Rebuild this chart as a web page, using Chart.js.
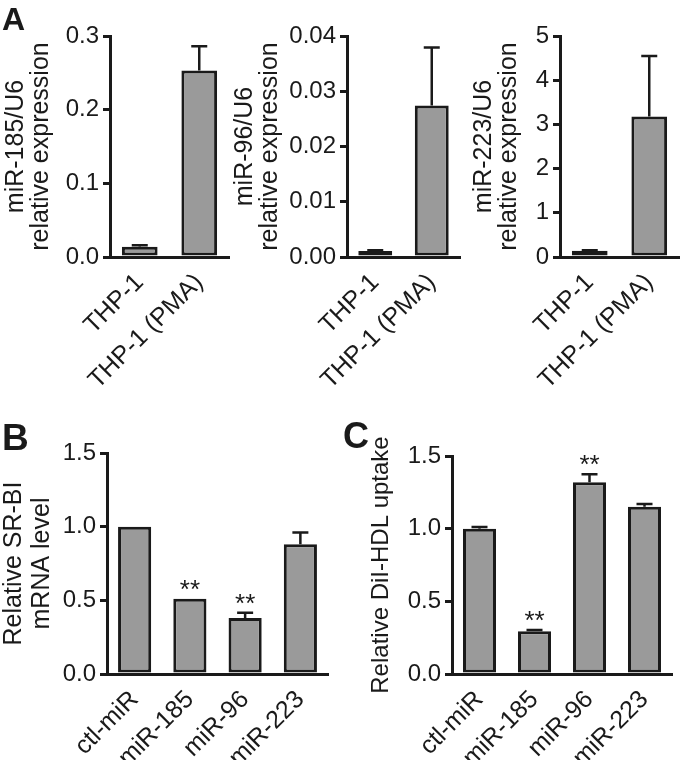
<!DOCTYPE html>
<html>
<head>
<meta charset="utf-8">
<script src="https://cdn.jsdelivr.net/npm/chart.js@4.4.1/dist/chart.umd.min.js"></script>
<style>
  html, body { margin: 0; padding: 0; background: #fff; }
  #fig { position: relative; width: 680px; height: 760px; overflow: hidden; }
  canvas { position: absolute; }
</style>
</head>
<body>
<div id="fig">
  <canvas id="a1" width="232" height="390" style="left:0;top:0"></canvas>
  <canvas id="a2" width="230" height="390" style="left:232px;top:0"></canvas>
  <canvas id="a3" width="218" height="390" style="left:462px;top:0"></canvas>
  <canvas id="b" width="340" height="360" style="left:0;top:400px"></canvas>
  <canvas id="c" width="340" height="360" style="left:340px;top:400px"></canvas>
</div>
<script>
const FONT = "'Liberation Sans', Arial, Helvetica, sans-serif";
const INK = '#1a1a1a';
const BAR_FILL = '#9a9a9a';

// panel A - miRNA expression, THP-1 vs PMA-differentiated
const thpLabels = ['THP-1', 'THP-1 (PMA)'];
const mir185Mean = [0.014, 0.253];
const mir185Err = [0.002, 0.033];
const mir96Mean = [0.0011, 0.0274];
const mir96Err = [0.0001, 0.0105];
const mir223Mean = [0.14, 3.18];
const mir223Err = [0.01, 1.37];
const mir185Ticks = ['0.0', '0.1', '0.2', '0.3'];
const mir96Ticks = ['0.00', '0.01', '0.02', '0.03', '0.04'];
const mir223Ticks = ['0', '1', '2', '3', '4', '5'];

// panels B and C
const mirLabels = ['ctl-miR', 'miR-185', 'miR-96', 'miR-223'];
const srbiMean = [1.0, 0.51, 0.38, 0.88];
const srbiErr = [0, 0, 0.036, 0.08];
const srbiStars = ['', '**', '**', ''];
const uptakeMean = [1.0, 0.295, 1.32, 1.15];
const uptakeErr = [0.012, 0.008, 0.055, 0.02];
const uptakeStars = ['', '**', '**', ''];
const relTicks = ['0.0', '0.5', '1.0', '1.5'];

// upward error bars + significance stars
const errorBars = {
  id: 'errorBars',
  afterDatasetsDraw(chart, args, opts) {
    const ctx = chart.ctx;
    const y = chart.scales.y;
    const vals = chart.data.datasets[0].data;
    const cap = opts.cap || 16;
    ctx.save();
    ctx.strokeStyle = INK;
    ctx.fillStyle = INK;
    ctx.lineWidth = 2.5;
    chart.getDatasetMeta(0).data.forEach((bar, i) => {
      const e = (opts.errors || [])[i] || 0;
      const topVal = vals[i] + e;
      if (e > 0) {
        const y0 = y.getPixelForValue(vals[i]);
        const y1 = y.getPixelForValue(topVal);
        ctx.beginPath();
        ctx.moveTo(bar.x, y0);
        ctx.lineTo(bar.x, y1);
        ctx.moveTo(bar.x - cap / 2, y1);
        ctx.lineTo(bar.x + cap / 2, y1);
        ctx.stroke();
      }
      const s = (opts.stars || [])[i];
      if (s) {
        ctx.font = '26px ' + FONT;
        ctx.textAlign = 'center';
        ctx.textBaseline = 'alphabetic';
        ctx.fillText(s, bar.x, y.getPixelForValue(topVal) - 1);
      }
    });
    ctx.restore();
  }
};

const panelLetter = {
  id: 'panelLetter',
  afterDraw(chart, args, opts) {
    if (!opts.text) return;
    const ctx = chart.ctx;
    ctx.save();
    ctx.fillStyle = INK;
    ctx.font = 'bold ' + opts.size + 'px ' + FONT;
    ctx.textAlign = 'left';
    ctx.textBaseline = 'alphabetic';
    ctx.fillText(opts.text, opts.x, opts.y);
    ctx.restore();
  }
};

function panel(id, o) {
  return new Chart(document.getElementById(id), {
    type: 'bar',
    data: {
      labels: o.labels,
      datasets: [{
        data: o.values,
        backgroundColor: BAR_FILL,
        borderColor: INK,
        borderWidth: 3,
        borderSkipped: false,
        barPercentage: o.barPct || 0.6,
        categoryPercentage: 1
      }]
    },
    options: {
      responsive: false,
      animation: false,
      devicePixelRatio: 1,
      layout: { padding: { left: o.padLeft, top: o.top, right: o.padRight, bottom: 0 } },
      plugins: {
        legend: { display: false },
        tooltip: { enabled: false },
        errorBars: { errors: o.errors, stars: o.stars, cap: 16 },
        panelLetter: o.letter || {}
      },
      scales: {
        x: {
          grid: { display: false },
          border: { display: true, color: INK, width: 3 },
          ticks: {
            color: INK,
            font: { family: FONT, size: 25 },
            minRotation: 45,
            maxRotation: 45,
            autoSkip: false,
            padding: 3
          },
          afterFit: s => { s.height = o.xHeight; }
        },
        y: {
          min: 0,
          max: o.max,
          ticks: {
            stepSize: o.step,
            color: INK,
            font: { family: FONT, size: 24 },
            padding: 4,
            callback: (v, i) => o.ticks[i] ?? ''
          },
          grid: { drawOnChartArea: false, color: INK, lineWidth: 3, tickLength: 7 },
          border: { color: INK, width: 3 },
          title: {
            display: true,
            text: o.title,
            color: INK,
            font: { family: FONT, size: o.titleSize, lineHeight: o.titleLH },
            padding: 0
          },
          afterFit: s => { s.width = o.yWidth; }
        }
      }
    },
    plugins: [errorBars, panelLetter]
  });
}

panel('a1', {
  labels: thpLabels, values: mir185Mean, errors: mir185Err,
  max: 0.3, step: 0.1, ticks: mir185Ticks,
  title: ['miR-185/U6', 'relative expression'], titleSize: 25, titleLH: 1.0,
  padLeft: 4, yWidth: 106, top: 36, padRight: 3, xHeight: 133,
  letter: { text: 'A', x: 2, y: 30, size: 32 }
});
panel('a2', {
  labels: thpLabels, values: mir96Mean, errors: mir96Err,
  max: 0.04, step: 0.01, ticks: mir96Ticks,
  title: ['miR-96/U6', 'relative expression'], titleSize: 25, titleLH: 1.0,
  padLeft: 1, yWidth: 114, top: 36, padRight: 2, xHeight: 133
});
panel('a3', {
  labels: thpLabels, values: mir223Mean, errors: mir223Err,
  max: 5, step: 1, ticks: mir223Ticks,
  title: ['miR-223/U6', 'relative expression'], titleSize: 25, titleLH: 1.0,
  padLeft: 10, yWidth: 88, top: 36, padRight: 1, xHeight: 133
});
panel('b', {
  labels: mirLabels, values: srbiMean, errors: srbiErr, stars: srbiStars,
  max: 1.5, step: 0.5, ticks: relTicks,
  title: ['Relative SR-BI', 'mRNA level'], titleSize: 25, titleLH: 1.12,
  padLeft: 0, yWidth: 107, top: 53, padRight: 12, xHeight: 86,
  letter: { text: 'B', x: 2, y: 50, size: 37 }
});
panel('c', {
  labels: mirLabels, values: uptakeMean, errors: uptakeErr, stars: uptakeStars,
  max: 1.5, step: 0.5, ticks: relTicks,
  title: 'Relative DiI-HDL uptake', titleSize: 24, titleLH: 1.2,
  padLeft: 27, yWidth: 85, top: 56, padRight: 8, xHeight: 86,
  letter: { text: 'C', x: 3, y: 48, size: 36 }
});
</script>
</body>
</html>
